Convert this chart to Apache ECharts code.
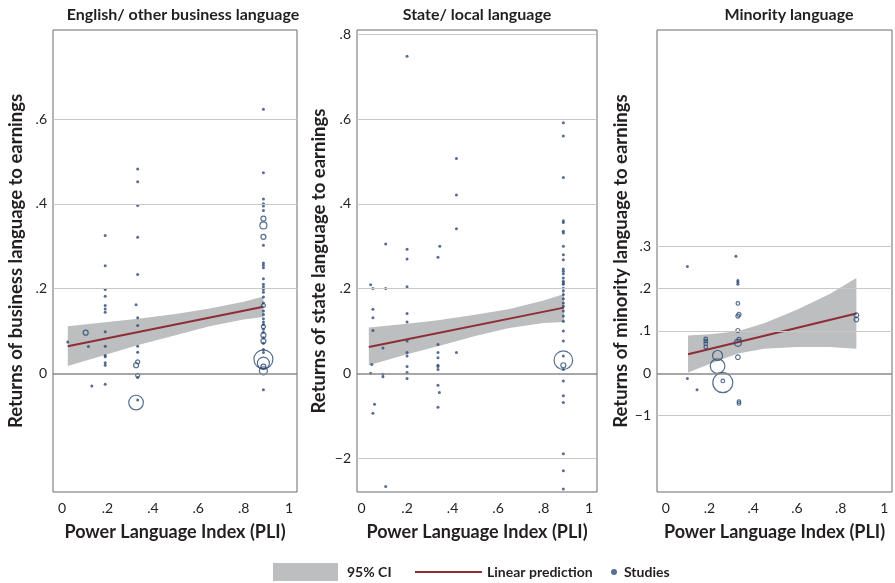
<!DOCTYPE html>
<html><head><meta charset="utf-8">
<script src="https://cdn.jsdelivr.net/npm/echarts@6/dist/echarts.min.js"></script>
<style>html,body{margin:0;padding:0;background:#fff}#c{width:895px;height:583px}</style>
</head><body><div id="c"></div>
<script>
// ---------- data ----------
const panelTitles = ['English/ other business language', 'State/ local language', 'Minority language'];
const yAxisNames = ['Returns of business language to earnings', 'Returns of state language to earnings', 'Returns of minority language to earnings'];
const xAxisName = 'Power Language Index (PLI)';
const xTickValues = [0, 0.2, 0.4, 0.6, 0.8, 1];
const xTickLabels = ['0', '.2', '.4', '.6', '.8', '1'];

const bizYTicks = [0.6, 0.4, 0.2, 0];
const bizYLabels = ['.6', '.4', '.2', '0'];
const stateYTicks = [0.8, 0.6, 0.4, 0.2, 0, -0.2];
const stateYLabels = ['.8', '.6', '.4', '.2', '0', '\u22122'];
const minYTicks = [0.3, 0.2, 0.1, 0, -0.1];
const minYLabels = ['.3', '.2', '.1', '0', '\u22121'];

// studies: [PLI, return, weight] (weight 0 = small study dot)
const bizStudies = [
  [0.19,0.325,0],[0.333,0.482,0],[0.333,0.452,0],[0.333,0.396,0],[0.333,0.321,0],
  [0.887,0.623,0],[0.887,0.473,0],[0.887,0.411,0],[0.887,0.400,0],[0.887,0.395,0],[0.887,0.384,0],
  [0.887,0.365,2.5],[0.887,0.349,3.5],[0.887,0.322,2.5],[0.887,0.302,0],
  [0.19,0.254,0],[0.19,0.198,0],[0.19,0.182,0],[0.19,0.160,0],[0.19,0.152,0],[0.19,0.144,0],[0.19,0.098,0],
  [0.19,0.064,0],[0.19,0.042,0],[0.19,0.039,0],[0.19,0.025,0],[0.19,0.019,0],[0.19,-0.026,0],
  [0.333,0.233,0],[0.326,0.162,0],[0.333,0.131,0],[0.333,0.113,0],[0.333,0.064,0],[0.333,0.050,0],
  [0.333,0.027,2],[0.326,0.019,2.5],[0.333,-0.005,2],[0.333,-0.010,0],[0.326,-0.069,7.3],[0.333,-0.063,0],
  [0.025,0.074,0],[0.104,0.096,2.5],[0.116,0.063,0],[0.131,-0.030,0],
  [0.887,0.260,0],[0.887,0.255,0],[0.887,0.249,0],[0.887,0.223,0],[0.887,0.210,0],[0.887,0.204,0],
  [0.887,0.198,0],[0.887,0.191,0],[0.887,0.180,0],[0.887,0.166,0],[0.887,0.160,2],[0.887,0.147,0],
  [0.887,0.139,0],[0.887,0.129,0],[0.887,0.121,0],[0.887,0.115,0],[0.887,0.110,2],[0.887,0.104,0],
  [0.887,0.097,0],[0.887,0.090,2.5],[0.887,0.084,0],[0.887,0.076,2.5],[0.887,0.071,0],[0.887,0.056,0],
  [0.887,0.049,0],[0.887,0.033,9.5],[0.887,0.024,6],[0.887,0.016,2.5],[0.887,0.006,4],[0.887,-0.039,0]
];
const stateStudies = [
  [0.2,0.748,0],[0.887,0.591,0],[0.887,0.56,0],[0.417,0.507,0],[0.887,0.462,0],[0.417,0.421,0],[0.417,0.341,0],
  [0.887,0.36,0],[0.887,0.356,0],[0.887,0.335,0],[0.887,0.331,0],[0.887,0.30,0],[0.106,0.305,0],[0.2,0.293,0],
  [0.344,0.30,0],[0.2,0.27,0],[0.336,0.274,0],
  [0.887,0.28,0],[0.887,0.268,0],[0.887,0.246,0],[0.887,0.241,0],[0.887,0.235,0],[0.887,0.225,0],[0.887,0.217,0],
  [0.887,0.213,0],[0.887,0.21,0],[0.887,0.201,0],[0.887,0.194,0],[0.887,0.186,0],[0.887,0.176,0],[0.887,0.166,0],
  [0.887,0.158,0],[0.887,0.147,0],[0.887,0.135,0],[0.887,0.123,0],[0.887,0.1,0],[0.887,0.076,0],[0.887,0.041,0],
  [0.887,0.019,2.5],[0.887,0.009,0],[0.887,-0.018,0],[0.887,-0.053,0],[0.887,-0.069,0],[0.887,-0.19,0],
  [0.887,-0.23,0],[0.887,-0.273,0],[0.887,0.031,9.3],
  [0.04,0.209,0],[0.05,0.2,0],[0.05,0.151,0],[0.05,0.131,0],[0.05,0.101,0],[0.045,0.021,0],[0.04,0.0,0],
  [0.057,-0.073,0],[0.05,-0.094,0],
  [0.106,0.2,0],[0.094,0.06,0],[0.094,-0.002,0],[0.094,-0.008,0],[0.106,-0.267,0],
  [0.2,0.204,0],[0.2,0.141,0],[0.2,0.121,0],[0.2,0.076,0],[0.2,0.049,0],[0.2,0.041,0],[0.2,0.016,0],[0.2,0.002,0],[0.2,-0.012,0],
  [0.336,0.068,0],[0.336,0.049,0],[0.336,0.037,0],[0.336,0.019,0],[0.336,0.016,0],[0.336,0.009,0],[0.336,-0.028,0],
  [0.342,-0.045,0],[0.336,-0.08,0],[0.417,0.049,0]
];
const minStudies = [
  [0.321,0.276,0],[0.099,0.252,0],[0.33,0.219,0],[0.33,0.215,0],[0.33,0.21,0],[0.33,0.165,1.8],
  [0.335,0.139,2],[0.33,0.135,2],[0.33,0.101,2],[0.335,0.08,2],[0.33,0.072,3.5],[0.33,0.038,2.3],
  [0.183,0.081,1.8],[0.183,0.076,1.8],[0.183,0.07,1.8],[0.183,0.062,1.8],
  [0.237,0.042,5],[0.237,0.017,7.3],[0.261,-0.022,10],[0.261,-0.018,1.8],
  [0.099,-0.012,0],[0.143,-0.039,0],[0.335,-0.067,1.8],[0.335,-0.071,1.8],[0.872,0.137,2.3],[0.872,0.127,2.3]
];

// linear prediction endpoints
const bizFitX = [0.025, 0.887];   const bizFitY = [0.064, 0.157];
const stateFitX = [0.032, 0.89];  const stateFitY = [0.062, 0.155];
const minFitX = [0.102, 0.872];   const minFitY = [0.045, 0.141];

// 95% CI band
const bizBandX = [0.025, 0.2, 0.335, 0.5, 0.65, 0.8, 0.887];
const bizBandUp = [0.111, 0.121, 0.129, 0.140, 0.153, 0.169, 0.181];
const bizBandLo = [0.017, 0.045, 0.067, 0.090, 0.111, 0.127, 0.133];
const stateBandX = [0.032, 0.2, 0.336, 0.5, 0.65, 0.8, 0.89];
const stateBandUp = [0.108, 0.117, 0.125, 0.138, 0.152, 0.172, 0.187];
const stateBandLo = [0.019, 0.045, 0.064, 0.088, 0.107, 0.119, 0.121];
const minBandX = [0.102, 0.2, 0.33, 0.45, 0.6, 0.75, 0.872];
const minBandUp = [0.089, 0.092, 0.099, 0.118, 0.15, 0.187, 0.225];
const minBandLo = [0.002, 0.022, 0.047, 0.058, 0.062, 0.062, 0.058];

// ---------- chart ----------
const NAVY = '#2c4a76', RED = '#8e2d35', BAND = '#bcbec0', TXT = '#231f20';
const FONT = 'Lato';
const panels = [
  {studies: bizStudies, fx: bizFitX, fy: bizFitY, bx: bizBandX, bu: bizBandUp, bl: bizBandLo, yt: bizYTicks, yl: bizYLabels,
   grid: {left: 53, width: 244}, xmin: -0.04, titleX: 178, yGap: 27},
  {studies: stateStudies, fx: stateFitX, fy: stateFitY, bx: stateBandX, bu: stateBandUp, bl: stateBandLo, yt: stateYTicks, yl: stateYLabels,
   grid: {left: 357, width: 240}, xmin: -0.02, titleX: 472, yGap: 28},
  {studies: minStudies, fx: minFitX, fy: minFitY, bx: minBandX, bu: minBandUp, bl: minBandLo, yt: minYTicks, yl: minYLabels,
   grid: {left: 657, width: 244}, xmin: -0.04, titleX: 784, yGap: 24}
];
function lookup(vals, labels, v) {
  for (let k = 0; k < vals.length; k++) if (Math.abs(vals[k] - v) < 1e-6) return labels[k];
  return '';
}
const option = {animation: false, backgroundColor: '#fff', title: [], grid: [], xAxis: [], yAxis: [], series: [], legend: []};
panels.forEach((p, i) => {
  option.title.push({text: panelTitles[i], left: p.titleX, top: 2, textAlign: 'center',
    textStyle: {fontFamily: FONT, fontWeight: 'bold', fontSize: 16, color: TXT}});
  option.grid.push({left: p.grid.left, width: p.grid.width, top: 30, height: 462, show: true,
    borderColor: '#6a6a6a', borderWidth: 1, backgroundColor: 'transparent', containLabel: false});
  option.xAxis.push({type: 'value', gridIndex: i, min: p.xmin, max: 1.035, interval: 0.02,
    axisLine: {show: false}, axisTick: {show: false}, splitLine: {show: false},
    axisLabel: {margin: 9, color: TXT, fontFamily: FONT, fontSize: 14, formatter: v => lookup(xTickValues, xTickLabels, v)},
    name: xAxisName, nameLocation: 'middle', nameGap: 31,
    nameTextStyle: {fontFamily: FONT, fontWeight: 'bold', fontSize: 18, color: TXT}});
  option.yAxis.push({type: 'value', gridIndex: i, min: -0.28, max: 0.81, interval: 0.02,
    axisLine: {show: false}, axisTick: {show: false}, splitLine: {show: false},
    axisLabel: {margin: 6, color: TXT, fontFamily: FONT, fontSize: 14, formatter: v => lookup(p.yt, p.yl, v)},
    name: yAxisNames[i], nameLocation: 'middle', nameGap: p.yGap,
    nameTextStyle: {fontFamily: FONT, fontWeight: 'bold', fontSize: 18.5, color: TXT}});
  option.series.push({type: 'line', name: '_grid', xAxisIndex: i, yAxisIndex: i, data: [], z: 1, silent: true,
    markLine: {silent: true, symbol: 'none', animation: false, label: {show: false},
      data: p.yt.map(v => ({yAxis: v, lineStyle: {color: v === 0 ? '#8a8a8a' : '#c8c8c8', width: v === 0 ? 1.6 : 1, type: 'solid'}}))}});
  option.series.push({type: 'custom', name: '95% CI', xAxisIndex: i, yAxisIndex: i, z: 2, silent: true,
    itemStyle: {color: BAND},
    data: p.bx.map((x, k) => [x, p.bu[k]]),
    renderItem: (params, api) => {
      if (params.dataIndex !== 0) return null;
      const up = p.bx.map((x, k) => api.coord([x, p.bu[k]]));
      const lo = p.bx.map((x, k) => api.coord([x, p.bl[k]])).reverse();
      return {type: 'polygon', shape: {points: up.concat(lo)}, style: {fill: BAND}};
    }});
  option.series.push({type: 'line', name: 'Linear prediction', xAxisIndex: i, yAxisIndex: i, z: 3, symbol: 'none',
    lineStyle: {color: RED, width: 2}, itemStyle: {color: RED},
    data: p.fx.map((x, k) => [x, p.fy[k]])});
  option.series.push({type: 'scatter', name: 'Studies', xAxisIndex: i, yAxisIndex: i, z: 4,
    itemStyle: {color: NAVY},
    data: p.studies.map(s => ({value: s,
      symbolSize: s[2] > 0 ? 2 * s[2] : 3,
      itemStyle: s[2] > 0 ? {color: 'rgba(0,0,0,0)', borderColor: NAVY, borderWidth: 1.2} : {color: NAVY}}))});
});
const legText = {fontFamily: FONT, fontWeight: 'bold', fontSize: 14, color: TXT};
option.legend = [
  {left: 273, top: 563, padding: 0, itemWidth: 65, itemHeight: 18, selectedMode: false,
   data: [{name: '95% CI', icon: 'rect', itemStyle: {color: BAND}}], textStyle: Object.assign({padding: [0, 0, 0, 4]}, legText)},
  {left: 415, top: 565, padding: 0, itemWidth: 67, itemHeight: 2, selectedMode: false,
   data: [{name: 'Linear prediction', icon: 'rect', itemStyle: {color: RED}}], textStyle: legText},
  {left: 611, top: 565, padding: 0, itemWidth: 6, itemHeight: 6, selectedMode: false,
   data: [{name: 'Studies', icon: 'circle', itemStyle: {color: NAVY}}], textStyle: Object.assign({padding: [0, 0, 0, 2]}, legText)}
];
const chart = echarts.init(document.getElementById('c'), null, {renderer: 'canvas'});
chart.setOption(option);
</script></body></html>
